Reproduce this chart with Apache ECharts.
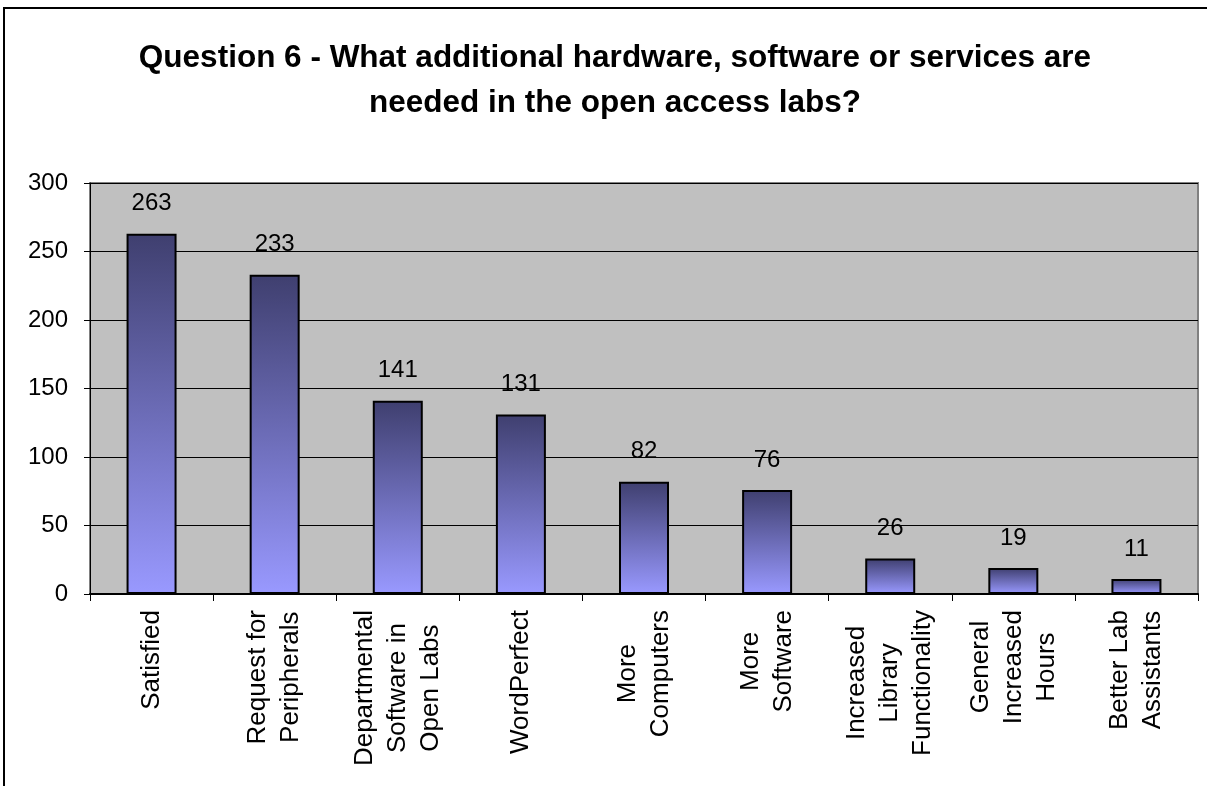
<!DOCTYPE html>
<html>
<head>
<meta charset="utf-8">
<style>
  html, body { margin: 0; padding: 0; background: #ffffff; }
  #chart { width: 1207px; height: 786px; }
</style>
<script src="https://cdn.jsdelivr.net/npm/echarts@6/dist/echarts.min.js"></script>
</head>
<body>
<div id="chart"></div>
<script>
// Survey responses per category
var categories = [
  'Satisfied',
  'Request for\nPeripherals',
  'Departmental\nSoftware in\nOpen Labs',
  'WordPerfect',
  'More\nComputers',
  'More\nSoftware',
  'Increased\nLibrary\nFunctionality',
  'General\nIncreased\nHours',
  'Better Lab\nAssistants'
];
var responses = [263, 233, 141, 131, 82, 76, 26, 19, 11];
var titleLines = [
  'Question 6 - What additional hardware, software or services are',
  'needed in the open access labs?'
];

var FONT = 'Arial, "Liberation Sans", sans-serif';
var chart = echarts.init(document.getElementById('chart'));

chart.setOption({
  backgroundColor: '#ffffff',
  animation: false,
  graphic: [{
    type: 'rect',
    shape: { x: 4, y: 8, width: 1260, height: 820 },
    style: { fill: 'none', stroke: '#000000', lineWidth: 2 },
    silent: true
  }],
  title: {
    text: titleLines.join('\n'),
    left: 610,
    top: 31,
    textAlign: 'center',
    textStyle: {
      fontFamily: FONT,
      fontWeight: 'bold',
      fontSize: 31.5,
      lineHeight: 45,
      color: '#000000'
    }
  },
  grid: {
    left: 90,
    top: 183,
    right: 9,
    bottom: 192,
    show: true,
    backgroundColor: '#c0c0c0',
    borderColor: '#808080',
    borderWidth: 2
  },
  xAxis: {
    type: 'category',
    data: categories,
    boundaryGap: true,
    axisLine: { lineStyle: { color: '#000000', width: 2 } },
    axisTick: { show: true, length: 7, alignWithLabel: false, lineStyle: { color: '#000000' } },
    axisLabel: {
      interval: 0,
      rotate: 90,
      margin: 16,
      color: '#000000',
      fontFamily: FONT,
      fontSize: 26,
      lineHeight: 33,
      formatter: function (v) {
        return v.split('\n').map(function (l) { return '{c|' + l + '}'; }).join('\n');
      },
      rich: {
        c: { align: 'center', fontFamily: FONT, fontSize: 26, lineHeight: 33, color: '#000000' }
      }
    }
  },
  yAxis: {
    type: 'value',
    min: 0,
    max: 300,
    interval: 50,
    axisLine: { show: true, lineStyle: { color: '#000000', width: 1 } },
    axisTick: { show: true, length: 6, lineStyle: { color: '#000000' } },
    axisLabel: {
      margin: 22,
      color: '#000000',
      fontFamily: FONT,
      fontSize: 24
    },
    splitLine: { show: true, lineStyle: { color: '#000000', width: 1 } }
  },
  series: [{
    type: 'bar',
    data: responses,
    barWidth: 50,
    itemStyle: {
      color: new echarts.graphic.LinearGradient(0, 0, 0, 1, [
        { offset: 0, color: '#3f3f6f' },
        { offset: 1, color: '#9999ff' }
      ]),
      borderColor: '#000000',
      borderWidth: 2
    },
    label: {
      show: true,
      position: 'top',
      distance: 18,
      color: '#000000',
      fontFamily: FONT,
      fontSize: 24
    }
  }]
});
</script>
</body>
</html>
